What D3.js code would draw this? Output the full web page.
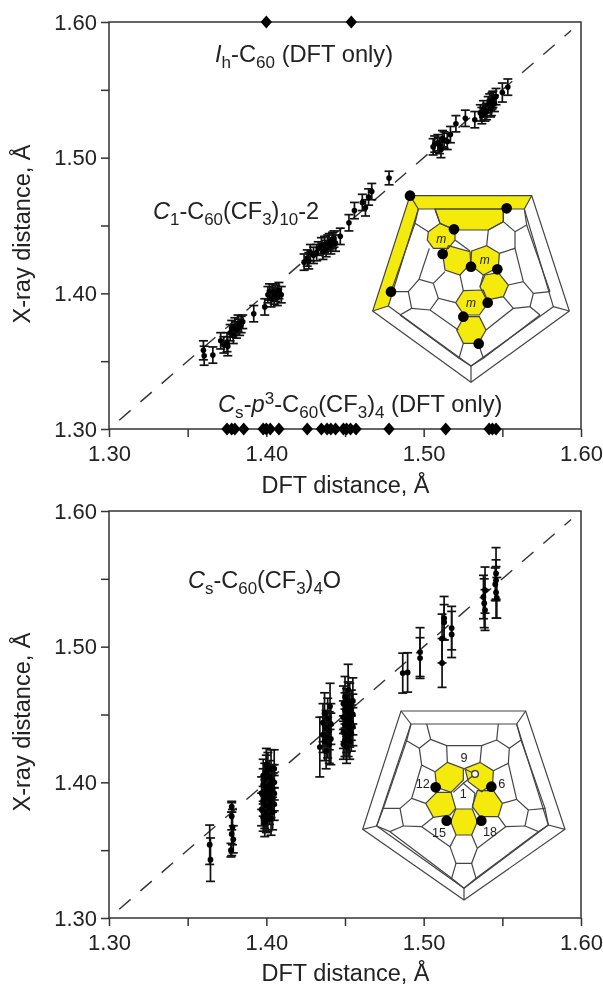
<!DOCTYPE html>
<html><head><meta charset="utf-8">
<script src="https://cdn.jsdelivr.net/npm/d3@7"></script>
<style>
html,body{margin:0;padding:0;background:#fff}
svg{display:block;font-family:"Liberation Sans",Arial,sans-serif;filter:blur(.45px)}
text{fill:#222}
</style></head><body><div id="c"></div>
<script>
const axisMajor=[1.30,1.40,1.50,1.60];
const axisMinor=[1.35,1.45,1.55];
const topIh=[1.40,1.454];
const topCs=[1.375,1.378,1.380,1.3856,1.398,1.400,1.4025,1.408,1.426,1.435,1.4386,1.441,1.444,1.449,1.451,1.4535,1.457,1.478,1.514,1.5416,1.5437,1.546];
// [dft, xray, err]
const topC1=[[1.360,1.358,.007],[1.3605,1.354,.007],[1.366,1.3545,.006],[1.371,1.365,.006],[1.373,1.362,.006],[1.375,1.364,.007],[1.3755,1.361,.007],[1.377,1.371,.006],[1.378,1.374,.006],[1.379,1.369,.006],[1.380,1.376,.006],[1.381,1.373,.006],[1.382,1.378,.006],[1.383,1.375,.006],[1.384,1.377,.006],[1.385,1.379,.005],[1.392,1.385,.006],[1.399,1.390,.006],[1.401,1.399,.006],[1.402,1.401,.006],[1.403,1.396,.006],[1.404,1.401,.006],[1.405,1.398,.006],[1.406,1.400,.006],[1.407,1.397,.006],[1.408,1.402,.006],[1.4095,1.399,.006],
[1.424,1.423,.006],[1.426,1.426,.006],[1.427,1.424,.006],[1.428,1.430,.006],[1.430,1.428,.006],[1.432,1.430,.006],[1.433,1.433,.005],[1.435,1.435,.006],[1.436,1.431,.006],[1.437,1.436,.006],[1.438,1.433,.006],[1.439,1.437,.006],[1.440,1.438,.006],[1.441,1.435,.006],[1.442,1.439,.006],[1.443,1.440,.006],[1.444,1.437,.006],[1.447,1.442,.006],[1.4525,1.452,.006],[1.456,1.461,.006],[1.461,1.467,.006],[1.463,1.463,.006],[1.465,1.471,.006],[1.467,1.475,.006],[1.478,1.485,.005],
[1.506,1.508,.006],[1.507,1.510,.006],[1.509,1.511,.006],[1.510,1.509,.006],[1.511,1.506,.006],[1.512,1.514,.006],[1.513,1.513,.006],[1.515,1.512,.006],[1.517,1.517,.006],[1.5205,1.525,.006],[1.5265,1.529,.006],[1.5325,1.528,.006],[1.536,1.533,.006],[1.537,1.531,.006],[1.538,1.536,.006],[1.539,1.533,.006],[1.540,1.534,.006],[1.541,1.539,.006],[1.542,1.541,.006],[1.5425,1.536,.006],[1.543,1.537,.006],[1.5435,1.542,.006],[1.544,1.543,.006],[1.545,1.540,.006],[1.546,1.545,.006],[1.550,1.548,.007],[1.5535,1.552,.006]];
const botCs=[[1.364,1.354,.0145],[1.3645,1.343,.016],
[1.378,1.382,.004],[1.378,1.375,.010],[1.3785,1.367,.013],[1.378,1.362,.016],[1.379,1.358,.010],[1.3775,1.350,.005],
[1.397,1.380,.012],[1.397,1.392,.012],[1.398,1.374,.010],[1.398,1.386,.011],[1.398,1.398,.012],[1.398,1.405,.012],[1.399,1.370,.010],[1.399,1.378,.012],[1.399,1.390,.012],[1.399,1.402,.012],[1.400,1.372,.009],[1.400,1.383,.011],[1.400,1.394,.011],[1.400,1.407,.013],[1.400,1.413,.012],[1.401,1.376,.012],[1.401,1.388,.011],[1.401,1.397,.012],[1.401,1.410,.012],[1.402,1.381,.012],[1.402,1.392,.011],[1.402,1.404,.012],[1.403,1.373,.012],[1.403,1.385,.011],[1.403,1.399,.011],[1.403,1.410,.014],[1.404,1.378,.013],[1.404,1.389,.011],[1.404,1.395,.012],[1.404,1.401,.012],[1.405,1.384,.012],[1.405,1.392,.013],[1.405,1.400,.013],[1.405,1.410,.014],
[1.434,1.426,.022],[1.436,1.435,.013],[1.436,1.444,.014],[1.437,1.430,.014],[1.437,1.451,.015],[1.438,1.423,.013],[1.438,1.440,.013],[1.439,1.433,.015],[1.439,1.447,.015],[1.440,1.428,.014],[1.440,1.438,.014],[1.4405,1.456,.017],[1.441,1.443,.015],[1.441,1.432,.019],
[1.449,1.428,.011],[1.449,1.437,.012],[1.449,1.448,.012],[1.449,1.458,.013],[1.450,1.431,.012],[1.450,1.442,.012],[1.450,1.453,.013],[1.450,1.463,.015],[1.451,1.426,.012],[1.451,1.435,.013],[1.451,1.446,.012],[1.451,1.456,.013],[1.452,1.433,.014],[1.452,1.441,.012],[1.452,1.451,.013],[1.452,1.460,.014],[1.452,1.468,.019],[1.453,1.430,.013],[1.453,1.438,.012],[1.453,1.448,.013],[1.453,1.458,.015],[1.454,1.436,.013],[1.454,1.444,.013],[1.454,1.454,.014],[1.455,1.441,.014],[1.455,1.450,.015],[1.455,1.460,.017],
[1.4867,1.4805,.0147],[1.4898,1.481,.0145],[1.4977,1.496,.018],[1.4977,1.4916,.015],[1.5117,1.488,.018],[1.5117,1.506,.018],[1.513,1.521,.016],[1.513,1.518,.013],[1.5178,1.5137,.016],[1.5178,1.509,.017],
[1.539,1.5417,.017],[1.538,1.5366,.016],[1.5385,1.532,.018],[1.539,1.527,.015],[1.546,1.554,.019],[1.546,1.540,.019],[1.5455,1.546,.012],[1.5465,1.536,.015],[1.546,1.549,.015]];
// inset geometry in its own drawing units
const in1Pos=[340,180];
const in1Outer=[[210,47],[575,47],[688,393],[393,607],[98,393]];
const in1Inner=[[235,87],[553,87],[640,380],[393,558],[145,378]];
const in1Yellow=[[[210,47],[575,47],[553,87],[235,87],[145,378],[98,393]],
[[285,87],[490,87],[490,125],[445,150],[345,150],[300,130]],
[[265,155],[300,130],[345,150],[345,180],[325,205],[280,205],[262,180]],
[[325,197],[390,215],[392,250],[360,285],[315,270],[310,235]],
[[395,213],[440,197],[478,220],[475,262],[430,285],[392,255]],
[[435,285],[475,278],[505,315],[490,350],[440,360],[420,320]],
[[370,332],[430,330],[445,368],[418,405],[372,405],[347,368]],
[[372,410],[418,410],[438,450],[415,490],[370,490],[350,450]]];
const in1Lines=[[[210,47],[235,87]],[[575,47],[553,87]],[[688,393],[640,380]],[[393,607],[393,558]],[[98,393],[145,378]],
[[285,87],[300,130]],[[235,87],[225,130],[265,155]],[[225,130],[153,335]],[[268,205],[237,298],[280,310],[315,275]],[[237,298],[205,335],[153,335]],[[205,335],[215,385],[180,405]],[[215,385],[270,390],[355,450]],[[280,310],[295,355],[347,368]],[[295,355],[270,390]],[[360,285],[370,332]],[[420,320],[430,285]],[[490,350],[520,385],[438,450]],[[505,315],[550,305],[580,340],[570,380],[520,385]],[[570,380],[600,405]],[[580,340],[630,335]],[[550,305],[525,205],[478,220]],[[445,150],[440,197]],[[445,150],[490,125],[525,155],[525,205]],[[525,155],[560,135],[553,87]],[[490,125],[490,87]],[[560,135],[630,335]],[[370,490],[357,535],[393,558],[430,535],[415,490]],[[345,180],[390,213]],[[180,405],[357,535]],[[600,405],[430,535]]];
const in1Dots=[[210,47],[500,85],[342,148],[308,222],[393,260],[472,268],[443,368],[370,410],[416,491],[153,335]];
const in1Labels=[["m",304,188],["m",434,252],["m",393,380]];
const in2Pos=[340,700];
const in2Outer=[[183,33],[557,33],[675,388],[372,600],[68,388]];
const in2Inner=[[213,72],[530,72],[625,375],[372,565],[110,378]];
const in2Yellow=[[[322,187],[370,205],[370,240],[333,277],[290,262],[285,215]],
[[375,205],[420,187],[460,212],[458,250],[425,275],[385,245]],
[[290,277],[333,277],[347,325],[330,345],[280,352],[257,310]],
[[412,272],[460,272],[487,310],[475,350],[420,350],[397,320]],
[[347,327],[397,327],[412,365],[395,405],[348,405],[332,365]]];
const in2Lines=[[[183,33],[213,72]],[[557,33],[530,72]],[[675,388],[625,375]],[[372,600],[372,565]],[[68,388],[110,378]],
[[260,72],[272,118],[238,145],[200,122],[213,72]],[[475,72],[470,120],[508,145],[543,120],[530,72]],[[272,118],[320,137],[425,137],[470,120]],[[320,137],[322,187]],[[425,137],[420,187]],[[508,145],[505,190],[460,212]],[[238,145],[245,195],[285,215]],[[245,195],[215,295],[257,310]],[[200,122],[130,325]],[[215,295],[180,325],[130,325],[110,378]],[[180,325],[190,378],[150,395],[110,378]],[[190,378],[245,380],[280,352]],[[505,190],[530,298],[487,310]],[[530,298],[565,330],[555,378],[595,395],[625,375]],[[565,330],[615,325],[625,375]],[[543,120],[615,325]],[[555,378],[497,380],[475,350]],[[497,380],[412,445]],[[245,380],[330,440]],[[395,405],[412,445],[395,490],[348,490],[330,440],[348,405]],[[348,490],[335,535],[372,565],[408,535],[395,490]],[[595,395],[408,535]],[[150,395],[335,535]],[[340,277],[370,250],[405,280],[397,325]],[[370,205],[405,222],[370,250]]];
const in2Dots=[[287,262],[454,260],[320,362],[424,362]];
const in2Open=[[405,222]];
const in2Labels=[["9",372,187],["12",248,264],["6",485,264],["1",370,293],["15",297,410],["18",450,407]];

const svg=d3.select("#c").append("svg").attr("width",603).attr("height",986);
const x=d3.scaleLinear().domain([1.30,1.60]).range([109,581]);
const lineGen=d3.line();
const ink="#333";

function panel(top,bottom){
  const y=d3.scaleLinear().domain([1.30,1.60]).range([bottom,top]);
  const g=svg.append("g");
  g.append("rect").attr("x",x.range()[0]).attr("y",top).attr("width",x.range()[1]-x.range()[0]).attr("height",bottom-top).attr("fill","none").attr("stroke",ink).attr("stroke-width",1.5);
  const ax=(gen,vals,lab,pad)=>gen.tickValues(vals).tickSizeOuter(0).tickSizeInner(8).tickPadding(pad).tickFormat(lab?d3.format(".2f"):"");
  [[axisMajor,true],[axisMinor,false]].forEach(([v,t])=>{
    const b=g.append("g").attr("transform",`translate(0,${bottom})`).call(ax(d3.axisBottom(x),v,t,8));
    const a=g.append("g").attr("transform",`translate(${x.range()[0]},0)`).call(ax(d3.axisLeft(y),v,t,4));
    [a,b].forEach(s=>{s.select(".domain").remove();s.selectAll("line").attr("stroke",ink).attr("stroke-width",1.5);
      s.selectAll("text").attr("font-size",22).attr("fill","#222").style("font-family","'Liberation Sans',Arial,sans-serif");});
  });
  g.append("line").attr("x1",x(1.3065)).attr("y1",y(1.3065)).attr("x2",x(1.5937)).attr("y2",y(1.5937)).attr("stroke",ink).attr("stroke-width",1.4).attr("stroke-dasharray","15 13");
  return {g,y};
}
function errPts(g,y,data,capW,r,sw){
  const s=g.append("g").attr("stroke","#111").attr("stroke-width",sw);
  const e=s.selectAll("g").data(data).join("g");
  e.append("line").attr("x1",d=>x(d[0])).attr("x2",d=>x(d[0])).attr("y1",d=>y(d[1]-d[2])).attr("y2",d=>y(d[1]+d[2]));
  [-1,1].forEach(k=>e.append("line").attr("x1",d=>x(d[0])-capW).attr("x2",d=>x(d[0])+capW).attr("y1",d=>y(d[1]+k*d[2])).attr("y2",d=>y(d[1]+k*d[2])));
  g.append("g").selectAll("circle").data(data).join("circle").attr("cx",d=>x(d[0])).attr("cy",d=>y(d[1])).attr("r",r).attr("fill","#000");
}
function rich(g,px,py,parts,size){
  const t=g.append("text").attr("x",px).attr("y",py).attr("font-size",size);
  let cur=0;
  parts.forEach(p=>{
    const want=p[1]==="sub"?size*.24:p[1]==="sup"?-size*.34:0;
    const ts=t.append("tspan").text(p[0]).attr("dy",want-cur);
    cur=want;
    if(p[1]==="i")ts.attr("font-style","italic");
    if(p[1]==="sub"||p[1]==="sup")ts.attr("font-size",size*.72);
  });
}
function inset(pos,outer,inner,yellow,lines,dots,labels,opens,skip){
  const g=svg.append("g").attr("transform",`translate(${pos[0]},${pos[1]}) scale(${1/3})`);
  g.append("path").attr("d",lineGen(outer)+"Z").attr("fill","#fff");
  g.selectAll("path.y").data(yellow).join("path").attr("class","y").attr("d",d=>lineGen(d)+"Z").attr("fill","#f4ea0c");
  const ln=g.append("g").attr("fill","none").attr("stroke","#444").attr("stroke-width",3.6);
  ln.append("path").attr("d",lineGen(outer)+"Z");
  ln.append("path").attr("d",lineGen(inner)+"Z");
  ln.selectAll("path.l").data(lines).join("path").attr("class","l").attr("d",d=>lineGen(d));
  ln.selectAll("path.y2").data(yellow.slice(skip)).join("path").attr("class","y2").attr("d",d=>lineGen(d)+"Z");
  g.selectAll("circle.d").data(dots).join("circle").attr("class","d").attr("cx",d=>d[0]).attr("cy",d=>d[1]).attr("r",16).attr("fill","#000");
  g.selectAll("circle.o").data(opens).join("circle").attr("class","o").attr("cx",d=>d[0]).attr("cy",d=>d[1]).attr("r",10).attr("fill","#fff").attr("stroke","#333").attr("stroke-width",4);
  g.selectAll("text.l").data(labels).join("text").attr("class","l").attr("x",d=>d[1]).attr("y",d=>d[2]).attr("text-anchor","middle").attr("font-size",d=>d[0]==="m"?36:38).attr("font-style",d=>d[0]==="m"?"italic":"normal").attr("fill","#333").text(d=>d[0]);
}

// top panel
const p1=panel(22,429);
errPts(p1.g,p1.y,topC1,4.5,2.8,1.7);
const diamond=d3.symbol().type(d3.symbolDiamond).size(50);
p1.g.selectAll("path.t").data(topIh).join("path").attr("class","t").attr("d",diamond).attr("transform",d=>`translate(${x(d)},${p1.y(1.60)}) scale(1.5,1)`).attr("fill","#000");
p1.g.selectAll("path.b").data(topCs).join("path").attr("class","b").attr("d",diamond).attr("transform",d=>`translate(${x(d)},${p1.y(1.30)}) scale(1.5,1)`).attr("fill","#000");
rich(svg,215,62,[["I","i"],["h","sub"],["-C"],["60","sub"],[" (DFT only)"]],23.7);
rich(svg,153,219,[["C","i"],["1","sub"],["-C"],["60","sub"],["(CF"],["3","sub"],[")"],["10","sub"],["-2"]],23.5);
rich(svg,218,412,[["C","i"],["s","sub"],["-"],["p","i"],["3","sup"],["-C"],["60","sub"],["(CF"],["3","sub"],[")"],["4","sub"],[" (DFT only)"]],23.7);
svg.append("text").attr("x",345.5).attr("y",493).attr("text-anchor","middle").attr("font-size",23.5).text("DFT distance, Å");
svg.append("text").attr("transform","translate(30,234) rotate(-90)").attr("text-anchor","middle").attr("font-size",23.5).text("X-ray distance, Å");
inset(in1Pos,in1Outer,in1Inner,in1Yellow,in1Lines,in1Dots,in1Labels,[],1);

// bottom panel
const p2=panel(511,918);
errPts(p2.g,p2.y,botCs,4.5,2.9,1.7);
rich(svg,188,588,[["C","i"],["s","sub"],["-C"],["60","sub"],["(CF"],["3","sub"],[")"],["4","sub"],["O"]],23.5);
svg.append("text").attr("x",345.5).attr("y",981).attr("text-anchor","middle").attr("font-size",23.5).text("DFT distance, Å");
svg.append("text").attr("transform","translate(30,722) rotate(-90)").attr("text-anchor","middle").attr("font-size",23.5).text("X-ray distance, Å");
inset(in2Pos,in2Outer,in2Inner,in2Yellow,in2Lines,in2Dots,in2Labels,in2Open,0);
</script></body></html>
